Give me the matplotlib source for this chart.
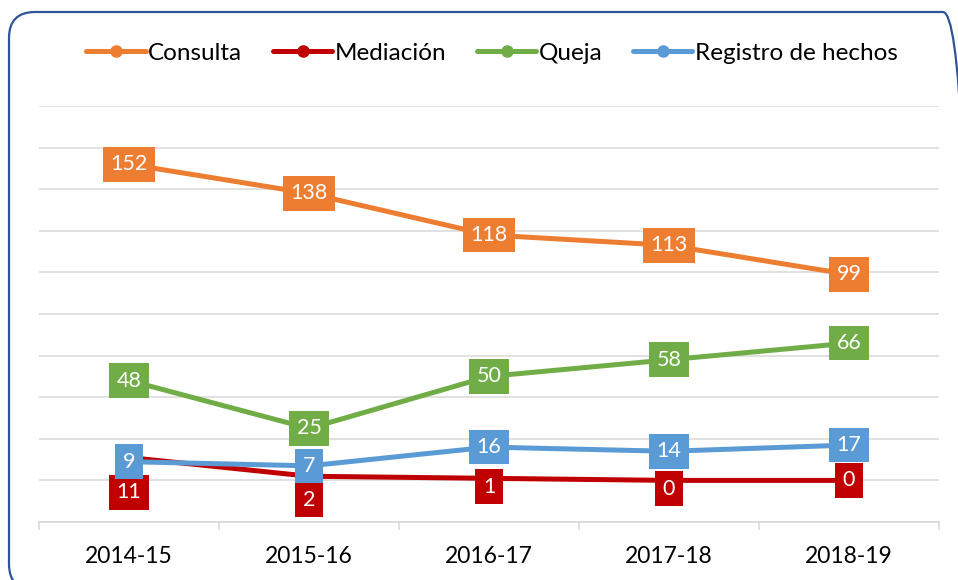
import matplotlib as mpl
import matplotlib.pyplot as plt
from matplotlib.patches import FancyBboxPatch

mpl.rcParams['font.family'] = ['Lato', 'DejaVu Sans']

# data
years = ['2014-15', '2015-16', '2016-17', '2017-18', '2018-19']
consulta = [152, 138, 118, 113, 99]
mediacion = [11, 2, 1, 0, 0]
queja = [48, 25, 50, 58, 66]
registro = [9, 7, 16, 14, 17]

series = [('Consulta', consulta, '#ED7D31'),
          ('Mediación', mediacion, '#C00000'),
          ('Queja', queja, '#70AD47'),
          ('Registro de hechos', registro, '#5B9BD5')]

# vertical offsets (points) of the data labels, Mediación sits below its line
label_dy = {'Mediación': [-25, -17, -6, -6, 0]}

W, H = 958, 580
fig = plt.figure(figsize=(W / 100, H / 100), dpi=100)
ax = fig.add_axes([39/W, 58/H, 900/W, 416/H])

x = list(range(len(years)))
handles = []
for i, (name, vals, col) in enumerate(series):
    ln, = ax.plot(x, vals, color=col, lw=3.6, marker='o', ms=8,
                  solid_capstyle='round', zorder=3 + i, label=name)
    handles.append(ln)

for i, (name, vals, col) in enumerate(series):
    dys = label_dy.get(name, [0] * len(vals))
    for xi, v, dy in zip(x, vals, dys):
        ax.annotate(str(v), (xi, v), xytext=(0, dy), textcoords='offset points',
                    ha='center', va='center', fontsize=15.5, color='white',
                    zorder=10 + i,
                    bbox=dict(boxstyle='square,pad=0.34', fc=col, ec='none'))

ax.set_xlim(-0.5, 4.5)
ax.set_ylim(-20, 180)
ax.set_yticks(range(-20, 181, 20))
ax.set_yticklabels([])
ax.tick_params(axis='y', length=0)
ax.grid(axis='y', color='#D9D9D9', lw=1.1, zorder=0)
ax.set_axisbelow(True)

ax.set_xticks(x)
ax.set_xticklabels(years, fontsize=16.5)
ax.set_xticks([v - 0.5 for v in range(6)], minor=True)
ax.tick_params(axis='x', which='major', length=0, pad=17)
ax.tick_params(axis='x', which='minor', length=6, width=1.1, color='#D9D9D9')

for s in ['top', 'right', 'left']:
    ax.spines[s].set_visible(False)
ax.spines['bottom'].set_color('#D9D9D9')
ax.spines['bottom'].set_linewidth(1.2)

fig.legend(handles=handles, loc='center', bbox_to_anchor=(492/W, 1 - 53/H),
           ncol=4, frameon=False, fontsize=17.5, handlelength=2.45,
           handletextpad=0.1, columnspacing=1.25)

# rounded frame around the chart, running off the right and bottom edges
frame = FancyBboxPatch((9/W, -10/H), 960/W, 578/H,
                       boxstyle='round,pad=0,rounding_size=%f' % (26/W),
                       mutation_aspect=W/H, fc='none', ec='#2F5597', lw=1.6,
                       transform=fig.transFigure, clip_on=False)
fig.add_artist(frame)

plt.savefig('out.png', dpi=100)
